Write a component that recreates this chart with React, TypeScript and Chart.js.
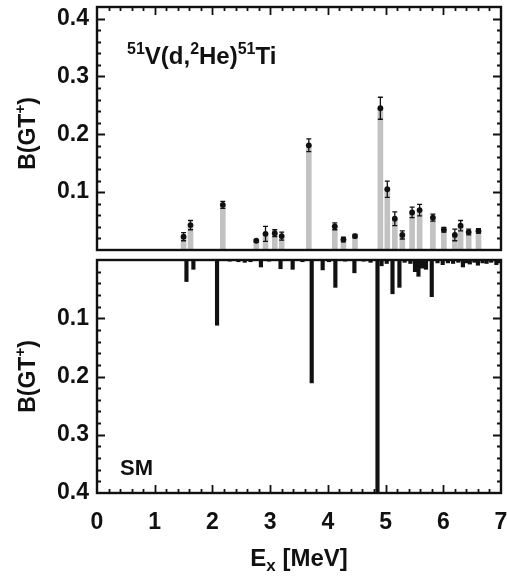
import React, { useEffect, useRef } from "react";
import { Chart, registerables } from "chart.js";

Chart.register(...registerables);

// ---------- data ----------
// Experiment: 51V(d,2He)51Ti  (Ex in MeV, B(GT+), error)
const expEnergy = [1.5, 1.62, 2.18, 2.76, 2.92, 3.08, 3.2, 3.67, 4.12, 4.27, 4.47, 4.91, 5.03, 5.16, 5.29, 5.46, 5.59, 5.82, 6.01, 6.2, 6.3, 6.44, 6.61];
const expBGT = [0.023, 0.043, 0.078, 0.016, 0.028, 0.029, 0.024, 0.181, 0.041, 0.018, 0.024, 0.245, 0.105, 0.054, 0.026, 0.065, 0.069, 0.056, 0.035, 0.026, 0.042, 0.031, 0.033];
const expErr = [0.007, 0.008, 0.006, 0.002, 0.013, 0.006, 0.007, 0.011, 0.006, 0.004, 0.003, 0.019, 0.014, 0.012, 0.007, 0.009, 0.01, 0.006, 0.004, 0.01, 0.009, 0.005, 0.004];

// Shell model
const smEnergy = [1.55, 1.67, 2.08, 2.3, 2.45, 2.56, 2.66, 2.84, 2.98, 3.18, 3.39, 3.56, 3.72, 3.91, 4.02, 4.13, 4.3, 4.46, 4.62, 4.74, 4.86, 4.93, 5.02, 5.12, 5.24, 5.33, 5.43, 5.51, 5.57, 5.63, 5.7, 5.8, 5.9, 5.99, 6.08, 6.17, 6.26, 6.34, 6.4, 6.46, 6.54, 6.6, 6.68, 6.75, 6.83, 6.92, 6.98];
const smBGT = [0.037, 0.016, 0.112, 0.002, 0.003, 0.004, 0.003, 0.012, 0.002, 0.015, 0.016, 0.003, 0.211, 0.017, 0.003, 0.047, 0.002, 0.022, 0.002, 0.004, 0.4, 0.01, 0.006, 0.058, 0.047, 0.004, 0.006, 0.02, 0.028, 0.014, 0.016, 0.063, 0.005, 0.008, 0.005, 0.006, 0.004, 0.012, 0.005, 0.007, 0.004, 0.009, 0.005, 0.006, 0.004, 0.008, 0.005];

const xTickValues = [0, 1, 2, 3, 4, 5, 6, 7];
const yTickValues = [0.1, 0.2, 0.3, 0.4];

const TOP_MAX = 0.42;
const BOT_MAX = 0.4;

// ---------- helpers ----------
const FAMILY = '"Liberation Sans", Arial, Helvetica, sans-serif';
const font = (size: number) => `bold ${size}px ${FAMILY}`;
type Part = { t: string; size: number; dy: number };

function drawParts(ctx: CanvasRenderingContext2D, parts: Part[], x: number, y: number, align: "left" | "center") {
  let w = 0;
  for (const p of parts) {
    ctx.font = font(p.size);
    w += ctx.measureText(p.t).width;
  }
  let cx = align === "center" ? x - w / 2 : x;
  ctx.textAlign = "left";
  ctx.textBaseline = "alphabetic";
  ctx.fillStyle = "#111";
  for (const p of parts) {
    ctx.font = font(p.size);
    ctx.fillText(p.t, cx, y + p.dy);
    cx += ctx.measureText(p.t).width;
  }
}

function drawFrame(chart: any, sides: { top: boolean; bottom: boolean }, yMax: number) {
  const { ctx, chartArea: a, scales } = chart;
  const xs = scales.x;
  const ys = scales.y;
  ctx.save();
  ctx.strokeStyle = "#111";
  ctx.lineWidth = 1.8;
  ctx.beginPath();
  // y ticks (left & right), minor every 0.02
  const ny = Math.round(yMax / 0.02);
  for (let k = 1; k <= ny; k++) {
    const v = k * 0.02;
    const py = Math.round(ys.getPixelForValue(v)) + 0.5;
    if (py < a.top + 2 || py > a.bottom - 2) continue;
    const len = k % 5 === 0 ? 8 : 4;
    ctx.moveTo(a.left, py);
    ctx.lineTo(a.left + len, py);
    ctx.moveTo(a.right, py);
    ctx.lineTo(a.right - len, py);
  }
  // x ticks, minor every 0.2
  for (let k = 1; k < 35; k++) {
    const v = k * 0.2;
    const px = Math.round(xs.getPixelForValue(v)) + 0.5;
    const len = k % 5 === 0 ? 8 : 4;
    if (sides.top) {
      ctx.moveTo(px, a.top);
      ctx.lineTo(px, a.top + len);
    }
    if (sides.bottom) {
      ctx.moveTo(px, a.bottom);
      ctx.lineTo(px, a.bottom - len);
    }
  }
  ctx.stroke();
  ctx.lineWidth = 2.4;
  ctx.strokeRect(a.left, a.top, a.right - a.left, a.bottom - a.top);
  ctx.restore();
}

function drawYTitle(ctx: CanvasRenderingContext2D, cx: number, cy: number) {
  ctx.save();
  ctx.translate(cx, cy);
  ctx.rotate(-Math.PI / 2);
  drawParts(
    ctx,
    [
      { t: "B(GT", size: 23, dy: 0 },
      { t: "+", size: 15, dy: -10 },
      { t: ")", size: 23, dy: 0 },
    ],
    0,
    0,
    "center"
  );
  ctx.restore();
}

const tickFont = { family: FAMILY, size: 23, weight: "bold" as const };

const zeroPad = (s: any) => {
  s.paddingTop = 0;
  s.paddingBottom = 0;
  s.paddingLeft = 0;
  s.paddingRight = 0;
};

const topDecor = {
  id: "topDecor",
  afterDraw(chart: any) {
    const { ctx, chartArea: a, scales } = chart;
    const xs = scales.x;
    const ys = scales.y;
    ctx.save();
    ctx.strokeStyle = "#111";
    ctx.lineWidth = 1.3;
    ctx.beginPath();
    expEnergy.forEach((e, i) => {
      const px = xs.getPixelForValue(e);
      const y1 = ys.getPixelForValue(expBGT[i] - expErr[i]);
      const y2 = ys.getPixelForValue(expBGT[i] + expErr[i]);
      ctx.moveTo(px, y1);
      ctx.lineTo(px, y2);
      ctx.moveTo(px - 2.5, y1);
      ctx.lineTo(px + 2.5, y1);
      ctx.moveTo(px - 2.5, y2);
      ctx.lineTo(px + 2.5, y2);
    });
    ctx.stroke();
    ctx.restore();
    drawFrame(chart, { top: true, bottom: false }, TOP_MAX);
    drawParts(
      ctx,
      [
        { t: "51", size: 16, dy: -10 },
        { t: "V(d,", size: 24, dy: 0 },
        { t: "2", size: 16, dy: -10 },
        { t: "He)", size: 24, dy: 0 },
        { t: "51", size: 16, dy: -10 },
        { t: "Ti", size: 24, dy: 0 },
      ],
      a.left + 30,
      a.top + 57,
      "left"
    );
    drawYTitle(ctx, 35, (a.top + a.bottom) / 2 + 5);
  },
};

const botDecor = {
  id: "botDecor",
  afterDraw(chart: any) {
    const { ctx, chartArea: a } = chart;
    drawFrame(chart, { top: false, bottom: true }, BOT_MAX);
    drawParts(ctx, [{ t: "SM", size: 22, dy: 0 }], a.left + 23, a.bottom - 18, "left");
    drawYTitle(ctx, 35, (a.top + a.bottom) / 2);
    drawParts(
      ctx,
      [
        { t: "E", size: 24, dy: 0 },
        { t: "x", size: 17, dy: 5 },
        { t: " [MeV]", size: 24, dy: 0 },
      ],
      (a.left + a.right) / 2,
      316,
      "center"
    );
  },
};

export default function App() {
  const topRef = useRef<HTMLCanvasElement>(null);
  const botRef = useRef<HTMLCanvasElement>(null);

  useEffect(() => {
    const expPoints = expEnergy.map((e, i) => ({ x: e, y: expBGT[i] }));
    const smPoints = smEnergy.map((e, i) => ({ x: e, y: smBGT[i] }));

    const c1 = new Chart(topRef.current as HTMLCanvasElement, {
      type: "bar",
      data: {
        datasets: [
          {
            type: "bar",
            data: expPoints as any,
            backgroundColor: "#c2c2c2",
            barThickness: 5,
            order: 2,
          },
          {
            type: "scatter",
            data: expPoints as any,
            pointRadius: 2.9,
            pointBackgroundColor: "#111",
            pointBorderWidth: 0,
            order: 1,
          } as any,
        ],
      },
      options: {
        responsive: false,
        animation: false,
        devicePixelRatio: 1,
        events: [],
        layout: { padding: { left: 0, right: 6, top: 7, bottom: 6 } },
        plugins: { legend: { display: false }, tooltip: { enabled: false } },
        scales: {
          x: {
            type: "linear",
            min: 0,
            max: 7,
            display: false,
            offset: false,
            afterFit: zeroPad,
          } as any,
          y: {
            type: "linear",
            min: 0,
            max: TOP_MAX,
            position: "left",
            grid: { display: false, drawTicks: false },
            border: { display: false },
            afterFit: (s: any) => {
              s.width = 97;
              zeroPad(s);
            },
            afterBuildTicks: (s: any) => {
              s.ticks = yTickValues.map((v) => ({ value: v }));
            },
            ticks: {
              font: tickFont,
              color: "#111",
              padding: 8,
              callback: (v: any) => Number(v).toFixed(1),
            },
          } as any,
        },
      },
      plugins: [topDecor],
    });

    const c2 = new Chart(botRef.current as HTMLCanvasElement, {
      type: "bar",
      data: {
        datasets: [
          {
            type: "bar",
            data: smPoints as any,
            backgroundColor: "#111",
            barThickness: 3.5,
          },
        ],
      },
      options: {
        responsive: false,
        animation: false,
        devicePixelRatio: 1,
        events: [],
        layout: { padding: { left: 0, right: 6, top: 10, bottom: 0 } },
        plugins: { legend: { display: false }, tooltip: { enabled: false } },
        scales: {
          x: {
            type: "linear",
            min: 0,
            max: 7,
            offset: false,
            position: "bottom",
            grid: { display: false, drawTicks: false },
            border: { display: false },
            afterFit: (s: any) => {
              s.height = 87;
              zeroPad(s);
            },
            afterBuildTicks: (s: any) => {
              s.ticks = xTickValues.map((v) => ({ value: v }));
            },
            ticks: {
              font: tickFont,
              color: "#111",
              padding: 16,
              maxRotation: 0,
              autoSkip: false,
              callback: (v: any) => String(v),
            },
          } as any,
          y: {
            type: "linear",
            min: 0,
            max: BOT_MAX,
            reverse: true,
            position: "left",
            grid: { display: false, drawTicks: false },
            border: { display: false },
            afterFit: (s: any) => {
              s.width = 97;
              zeroPad(s);
            },
            afterBuildTicks: (s: any) => {
              s.ticks = yTickValues.map((v) => ({ value: v }));
            },
            ticks: {
              font: tickFont,
              color: "#111",
              padding: 8,
              callback: (v: any) => Number(v).toFixed(1),
            },
          } as any,
        },
      },
      plugins: [botDecor],
    });

    return () => {
      c1.destroy();
      c2.destroy();
    };
  }, []);

  return (
    <div style={{ position: "absolute", left: 0, top: 0, width: 507, height: 580, background: "#fff" }}>
      <canvas
        ref={topRef}
        width={507}
        height={256}
        style={{ position: "absolute", left: 0, top: 0, width: 507, height: 256 }}
      />
      <canvas
        ref={botRef}
        width={507}
        height={330}
        style={{ position: "absolute", left: 0, top: 250, width: 507, height: 330 }}
      />
    </div>
  );
}
